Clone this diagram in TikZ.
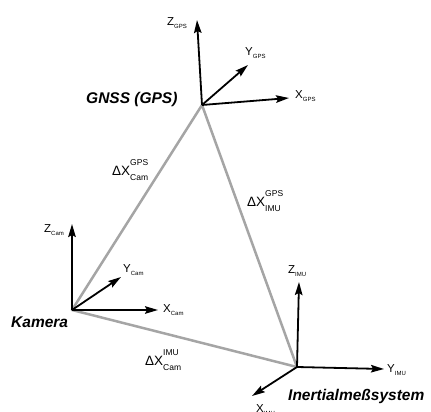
\documentclass[tikz,border=0pt]{standalone}
\usepackage{fontspec}
\setmainfont{Liberation Sans}
\usetikzlibrary{arrows.meta}
\newcommand\axlab[2]{{\fontsize{11.5}{12}\selectfont #1}\raisebox{-3pt}{\fontsize{6}{6}\selectfont #2}}
\newcommand\dxlab[2]{{\fontsize{13.5}{14}\selectfont ΔX}\rlap{\raisebox{9.5pt}{\fontsize{8.5}{9}\selectfont #1}}\raisebox{-5pt}{\fontsize{8.5}{9}\selectfont #2}}
\tikzset{
  axis/.style={line width=1.8pt,-{Stealth[length=13pt,width=7.5pt,inset=2pt]}},
  link/.style={line width=2.5pt,draw={rgb,255:red,165;green,165;blue,165},line join=round},
  lab/.style={inner sep=0pt,anchor=base west},
  sysname/.style={inner sep=0pt,anchor=base west,font=\fontsize{15.5}{16}\selectfont\bfseries\itshape},
}
\begin{document}
\begin{tikzpicture}[x=1pt,y=-1pt]
\useasboundingbox (0,0) rectangle (431,412);
% origins
\coordinate (gps) at (202,105);
\coordinate (cam) at (72,310);
\coordinate (imu) at (297,367);
% axis tips
\coordinate (gz) at (197,20);
\coordinate (gy) at (248,65);
\coordinate (gx) at (289,98);
\coordinate (cz) at (72,224);
\coordinate (cy) at (121,277);
\coordinate (cx) at (158,310);
\coordinate (iz) at (299,282);
\coordinate (iy) at (384,369);
\coordinate (ix) at (252,396);
% triangle
\draw[link] (gps) -- (cam) -- (imu) -- cycle;
% axes
\draw[axis] (gps) -- (gz);
\draw[axis] (gps) -- (gy);
\draw[axis] (gps) -- (gx);
\draw[axis] (cam) -- (cz);
\draw[axis] (cam) -- (cy);
\draw[axis] (cam) -- (cx);
\draw[axis] (imu) -- (iz);
\draw[axis] (imu) -- (iy);
\draw[axis] (imu) -- (ix);
% axis labels
\node[lab] (lgz) at (167,26) {\axlab{Z}{GPS}};
\node[lab] (lgy) at (245,56) {\axlab{Y}{GPS}};
\node[lab] (lgx) at (295,98) {\axlab{X}{GPS}};
\node[lab] (lcz) at (44,232) {\axlab{Z}{Cam}};
\node[lab] (lcy) at (123,272) {\axlab{Y}{Cam}};
\node[lab] (lcx) at (163,312) {\axlab{X}{Cam}};
\node[lab] (liz) at (288,273) {\axlab{Z}{IMU}};
\node[lab] (liy) at (387,372) {\axlab{Y}{IMU}};
\node[lab] (lix) at (256,412) {\axlab{X}{IMU}};
% system names
\node[sysname] (ngps) at (86,103) {GNSS (GPS)};
\node[sysname] (ncam) at (11,327) {Kamera};
\node[sysname] (nimu) at (288,400) {Inertialmeßsystem};
% delta labels
\node[lab] (dgc) at (112,175) {\dxlab{GPS}{Cam}};
\node[lab] (dgi) at (247,206) {\dxlab{GPS}{IMU}};
\node[lab] (dic) at (145,365) {\dxlab{IMU}{Cam}};
\end{tikzpicture}
\end{document}
